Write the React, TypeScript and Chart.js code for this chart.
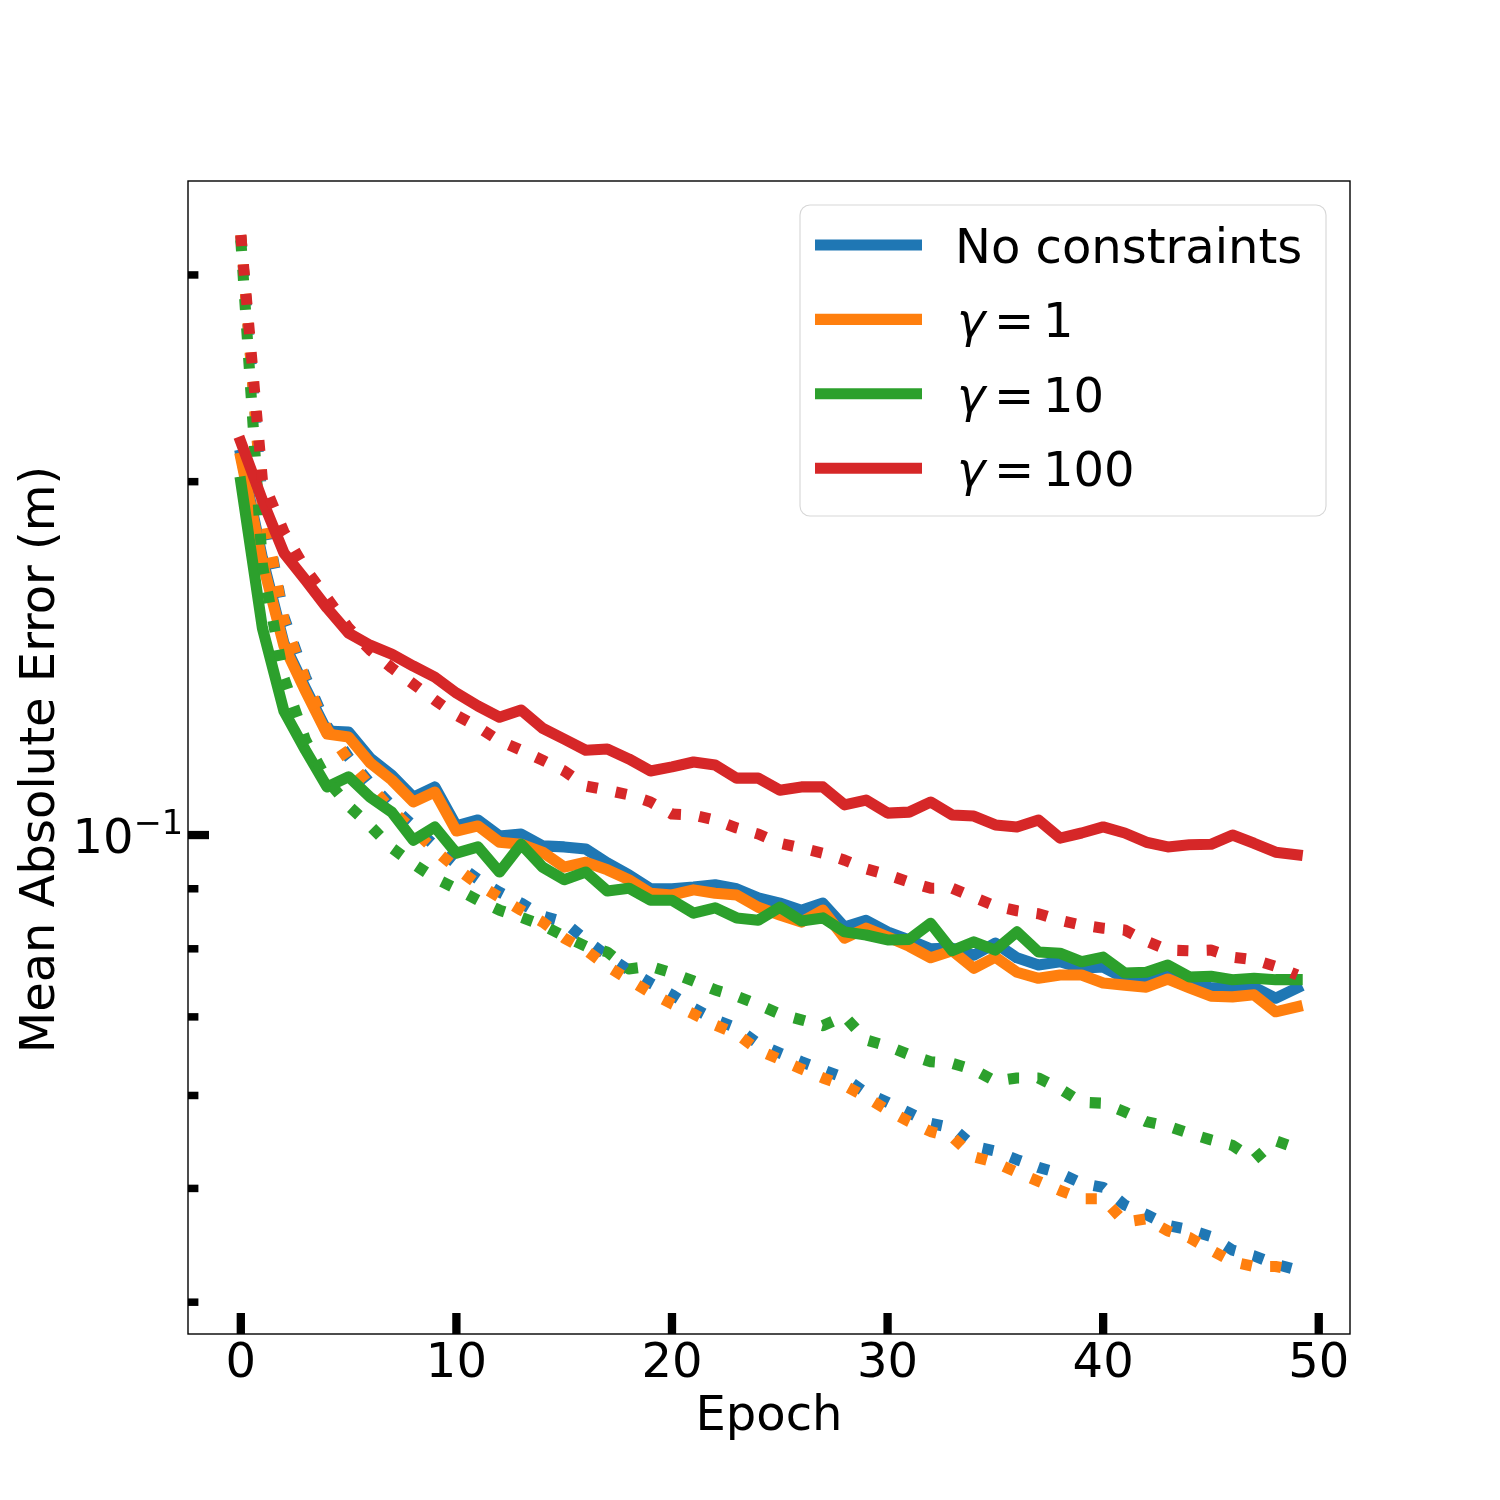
import { useEffect, useRef } from "react";
import Chart from "chart.js/auto";

const epochs = [
  0, 1, 2, 3, 4, 5, 6, 7, 8, 9, 10, 11, 12, 13, 14, 15, 16, 17, 18, 19, 20, 21, 22, 23, 24,
  25, 26, 27, 28, 29, 30, 31, 32, 33, 34, 35, 36, 37, 38, 39, 40, 41, 42, 43, 44, 45, 46, 47, 48, 49,
];

// solid = validation, dotted = training
const noConstraintsVal = [
  0.2107, 0.1722, 0.1457, 0.1334, 0.1226, 0.1224, 0.1163, 0.1125, 0.1077, 0.1099,
  0.1018, 0.103, 0.0998, 0.1002, 0.0979, 0.0977, 0.0973, 0.0947, 0.0925, 0.09,
  0.09, 0.0903, 0.0907, 0.09, 0.0884, 0.0875, 0.0863, 0.0875, 0.0835, 0.0846,
  0.0827, 0.0814, 0.08, 0.0801, 0.079, 0.0809, 0.0786, 0.0775, 0.078, 0.077,
  0.0772, 0.0755, 0.0755, 0.0767, 0.075, 0.0741, 0.0741, 0.0742, 0.0726, 0.0741,
];
const noConstraintsTrain = [
  0.3238, 0.1918, 0.1534, 0.1363, 0.1238, 0.1165, 0.1107, 0.1059, 0.1018, 0.0979,
  0.0945, 0.0917, 0.0894, 0.0875, 0.0853, 0.0843, 0.0814, 0.0789, 0.0767, 0.0748,
  0.0731, 0.0712, 0.0696, 0.0685, 0.0664, 0.0652, 0.0641, 0.0631, 0.0621, 0.0603,
  0.0592, 0.058, 0.0568, 0.0563, 0.0543, 0.0538, 0.0529, 0.0521, 0.0515, 0.0505,
  0.0501, 0.0484, 0.0475, 0.0465, 0.0461, 0.0455, 0.0443, 0.0438, 0.0431, 0.0426,
];
const gamma1Val = [
  0.2095, 0.1708, 0.1449, 0.1326, 0.1219, 0.1212, 0.1152, 0.1114, 0.1067, 0.1088,
  0.1008, 0.1018, 0.0986, 0.0982, 0.0967, 0.0939, 0.0948, 0.0934, 0.0916, 0.0892,
  0.0889, 0.0898, 0.0892, 0.0889, 0.0868, 0.0855, 0.0843, 0.0863, 0.0817, 0.0833,
  0.0819, 0.0804, 0.0786, 0.0797, 0.077, 0.0787, 0.0764, 0.0755, 0.076, 0.076,
  0.0748, 0.0745, 0.0742, 0.0754, 0.0741, 0.0729, 0.0728, 0.0731, 0.0707, 0.0714,
];
const gamma1Train = [
  0.3244, 0.191, 0.1525, 0.1355, 0.1231, 0.1158, 0.1101, 0.105, 0.101, 0.0971,
  0.0937, 0.0908, 0.0885, 0.0863, 0.0843, 0.0817, 0.0798, 0.0773, 0.0753, 0.0734,
  0.0718, 0.0704, 0.0689, 0.0677, 0.0656, 0.0644, 0.0632, 0.0621, 0.0612, 0.0598,
  0.0583, 0.057, 0.0559, 0.0553, 0.0532, 0.0526, 0.0516, 0.0507, 0.0498, 0.049,
  0.049, 0.0468, 0.0471, 0.046, 0.0454, 0.0443, 0.0433, 0.0429, 0.0429, 0.0426,
];
const gamma10Val = [
  0.1998, 0.1501, 0.1275, 0.1181, 0.1099, 0.1121, 0.1077, 0.1046, 0.099, 0.1016,
  0.0965, 0.0977, 0.093, 0.0982, 0.0939, 0.0916, 0.093, 0.0896, 0.0901, 0.088,
  0.088, 0.0858, 0.0867, 0.085, 0.0846, 0.0868, 0.0845, 0.085, 0.0827, 0.0822,
  0.0814, 0.0815, 0.0841, 0.0797, 0.0811, 0.0798, 0.0827, 0.0795, 0.0793, 0.078,
  0.0787, 0.0763, 0.0764, 0.0775, 0.0757, 0.0758, 0.0753, 0.0755, 0.0753, 0.0753,
];
const gamma10Train = [
  0.3212, 0.1698, 0.1361, 0.1205, 0.1114, 0.1059, 0.1018, 0.0975, 0.0945, 0.0919,
  0.09, 0.088, 0.0863, 0.0851, 0.0838, 0.082, 0.0804, 0.0795, 0.0769, 0.0773,
  0.0763, 0.0751, 0.0738, 0.0729, 0.0717, 0.0704, 0.0696, 0.0688, 0.0701, 0.0669,
  0.0661, 0.065, 0.0641, 0.0639, 0.0631, 0.0617, 0.0621, 0.0621, 0.0608, 0.0592,
  0.0591, 0.0581, 0.057, 0.0565, 0.0557, 0.055, 0.0544, 0.0529, 0.0549, 0.0541,
];
const gamma100Val = [
  0.2162, 0.1929, 0.1739, 0.1649, 0.1561, 0.1486, 0.1451, 0.1426, 0.1393, 0.1363,
  0.1321, 0.1288, 0.126, 0.1278, 0.1233, 0.1207, 0.1181, 0.1184, 0.1161, 0.1134,
  0.1143, 0.1154, 0.1147, 0.1118, 0.1118, 0.1092, 0.1099, 0.1099, 0.1061, 0.1071,
  0.1044, 0.1046, 0.1067, 0.104, 0.1038, 0.102, 0.1016, 0.103, 0.0994, 0.1004,
  0.1016, 0.1004, 0.0986, 0.0977, 0.0981, 0.0982, 0.1, 0.0984, 0.0967, 0.0962,
];
const gamma100Train = [
  0.3244, 0.2006, 0.1812, 0.1685, 0.1592, 0.1501, 0.1437, 0.1388, 0.1345, 0.1303,
  0.1265, 0.1236, 0.1203, 0.1181, 0.1158, 0.1134, 0.1101, 0.1092, 0.1082, 0.1067,
  0.1042, 0.104, 0.103, 0.1014, 0.1002, 0.0984, 0.0975, 0.0965, 0.0952, 0.0936,
  0.0925, 0.0912, 0.0901, 0.0901, 0.0885, 0.087, 0.0862, 0.0857, 0.0846, 0.0838,
  0.0833, 0.083, 0.0812, 0.0798, 0.0797, 0.0798, 0.0787, 0.0783, 0.0773, 0.076,
];

const legendLabels = ["No constraints", "γ = 1", "γ = 10", "γ = 100"];
const colors = ["#1f77b4", "#ff7f0e", "#2ca02c", "#d62728"];
const xTicks = [0, 10, 20, 30, 40, 50];
const yMajorTicks = [0.1];
const yMinorTicks = [0.04, 0.05, 0.06, 0.07, 0.08, 0.09, 0.2, 0.3];

const FONT = "'DejaVu Sans', sans-serif";
const LW = 11.1;

const toPoints = (ys: number[]) => epochs.map((x, i) => ({ x, y: ys[i] }));

// matplotlib-style frame, inward ticks, labels and legend
const decorations = {
  id: "decorations",
  afterDraw(chart: Chart) {
    const { ctx, chartArea } = chart;
    const { left, right, top, bottom } = chartArea;
    const xs = chart.scales.x;
    const ys = chart.scales.y;
    ctx.save();
    ctx.fillStyle = "#000";
    ctx.strokeStyle = "#000";

    // frame
    ctx.lineWidth = 1.4;
    ctx.strokeRect(left, top, right - left, bottom - top);

    // ticks
    xTicks.forEach((v) => {
      const px = xs.getPixelForValue(v);
      ctx.fillRect(px - 4.15, bottom - 21, 8.3, 21);
    });
    yMajorTicks.forEach((v) => {
      const py = ys.getPixelForValue(v);
      ctx.fillRect(left, py - 4.15, 21, 8.3);
    });
    yMinorTicks.forEach((v) => {
      const py = ys.getPixelForValue(v);
      ctx.fillRect(left, py - 3.75, 10.4, 7.5);
    });

    // x tick labels
    ctx.font = `48px ${FONT}`;
    ctx.textAlign = "center";
    ctx.textBaseline = "alphabetic";
    xTicks.forEach((v) => {
      ctx.fillText(String(v), xs.getPixelForValue(v), bottom + 43);
    });

    // y tick label 10^-1
    yMajorTicks.forEach((v) => {
      const py = ys.getPixelForValue(v);
      const exp = String(Math.round(Math.log10(v))).replace("-", "\u2212");
      ctx.font = `33.6px ${FONT}`;
      ctx.textAlign = "right";
      const supW = ctx.measureText(exp).width;
      const xr = left - 5;
      ctx.fillText(exp, xr, py - 1);
      ctx.font = `48px ${FONT}`;
      ctx.fillText("10", xr - supW, py + 18);
    });

    // axis titles
    ctx.font = `48px ${FONT}`;
    ctx.textAlign = "center";
    ctx.fillText("Epoch", (left + right) / 2, bottom + 96);
    ctx.save();
    ctx.translate(54, (top + bottom) / 2 + 2);
    ctx.rotate(-Math.PI / 2);
    ctx.fillText("Mean Absolute Error (m)", 0, 0);
    ctx.restore();

    // legend
    const bw = 526;
    const bh = 311;
    const bx = right - 24 - bw;
    const by = top + 24;
    ctx.beginPath();
    ctx.roundRect(bx, by, bw, bh, 10);
    ctx.fillStyle = "rgba(255,255,255,0.8)";
    ctx.fill();
    ctx.strokeStyle = "rgba(204,204,204,0.8)";
    ctx.lineWidth = 1.1;
    ctx.stroke();

    legendLabels.forEach((label, i) => {
      const cy = by + 40 + i * 74.4;
      ctx.strokeStyle = colors[i];
      ctx.lineWidth = LW;
      ctx.lineCap = "butt";
      ctx.beginPath();
      ctx.moveTo(bx + 15, cy);
      ctx.lineTo(bx + 122, cy);
      ctx.stroke();

      ctx.fillStyle = "#000";
      ctx.textAlign = "left";
      const tx = bx + 155;
      const base = cy + 18;
      if (label.startsWith("γ")) {
        const [, rhs] = label.split("=");
        ctx.font = `italic 48px ${FONT}`;
        ctx.fillText("γ", tx + 2, base);
        ctx.font = `48px ${FONT}`;
        ctx.fillText("=", tx + 39, base);
        ctx.fillText(rhs.trim(), tx + 88, base);
      } else {
        ctx.font = `48px ${FONT}`;
        ctx.fillText(label, tx, base);
      }
    });

    ctx.restore();
  },
};

export default function App() {
  const canvasRef = useRef<HTMLCanvasElement | null>(null);

  useEffect(() => {
    const canvas = canvasRef.current;
    if (!canvas) return;

    const solid = (data: number[], color: string, order: number) => ({
      data: toPoints(data),
      borderColor: color,
      borderWidth: LW,
      borderJoinStyle: "round" as const,
      borderCapStyle: "square" as const,
      pointRadius: 0,
      fill: false,
      order,
    });
    const dotted = (data: number[], color: string, order: number) => ({
      data: toPoints(data),
      borderColor: color,
      borderWidth: LW,
      borderDash: [LW, LW * 1.65],
      borderJoinStyle: "round" as const,
      borderCapStyle: "butt" as const,
      pointRadius: 0,
      fill: false,
      order,
    });

    const chart = new Chart(canvas, {
      type: "line",
      data: {
        datasets: [
          solid(noConstraintsVal, colors[0], 8),
          dotted(noConstraintsTrain, colors[0], 7),
          solid(gamma1Val, colors[1], 6),
          dotted(gamma1Train, colors[1], 5),
          solid(gamma10Val, colors[2], 4),
          dotted(gamma10Train, colors[2], 3),
          solid(gamma100Val, colors[3], 2),
          dotted(gamma100Train, colors[3], 1),
        ],
      },
      options: {
        animation: false,
        responsive: false,
        devicePixelRatio: 1,
        layout: { padding: { left: 0, top: 181, right: 150, bottom: 0 } },
        plugins: {
          legend: { display: false },
          tooltip: { enabled: false },
        },
        scales: {
          x: {
            type: "linear",
            min: -2.45,
            max: 51.45,
            ticks: { display: false },
            grid: { display: false },
            border: { display: false },
            afterFit: (scale) => {
              scale.height = 166;
            },
          },
          y: {
            type: "logarithmic",
            min: 0.03758,
            max: 0.3607,
            ticks: { display: false },
            grid: { display: false },
            border: { display: false },
            afterFit: (scale) => {
              scale.width = 188;
            },
          },
        },
      },
      plugins: [decorations],
    });

    return () => {
      chart.destroy();
    };
  }, []);

  return (
    <div style={{ position: "absolute", left: 0, top: 0, width: 1500, height: 1500, background: "#fff" }}>
      <canvas ref={canvasRef} width={1500} height={1500} style={{ display: "block" }} />
    </div>
  );
}
